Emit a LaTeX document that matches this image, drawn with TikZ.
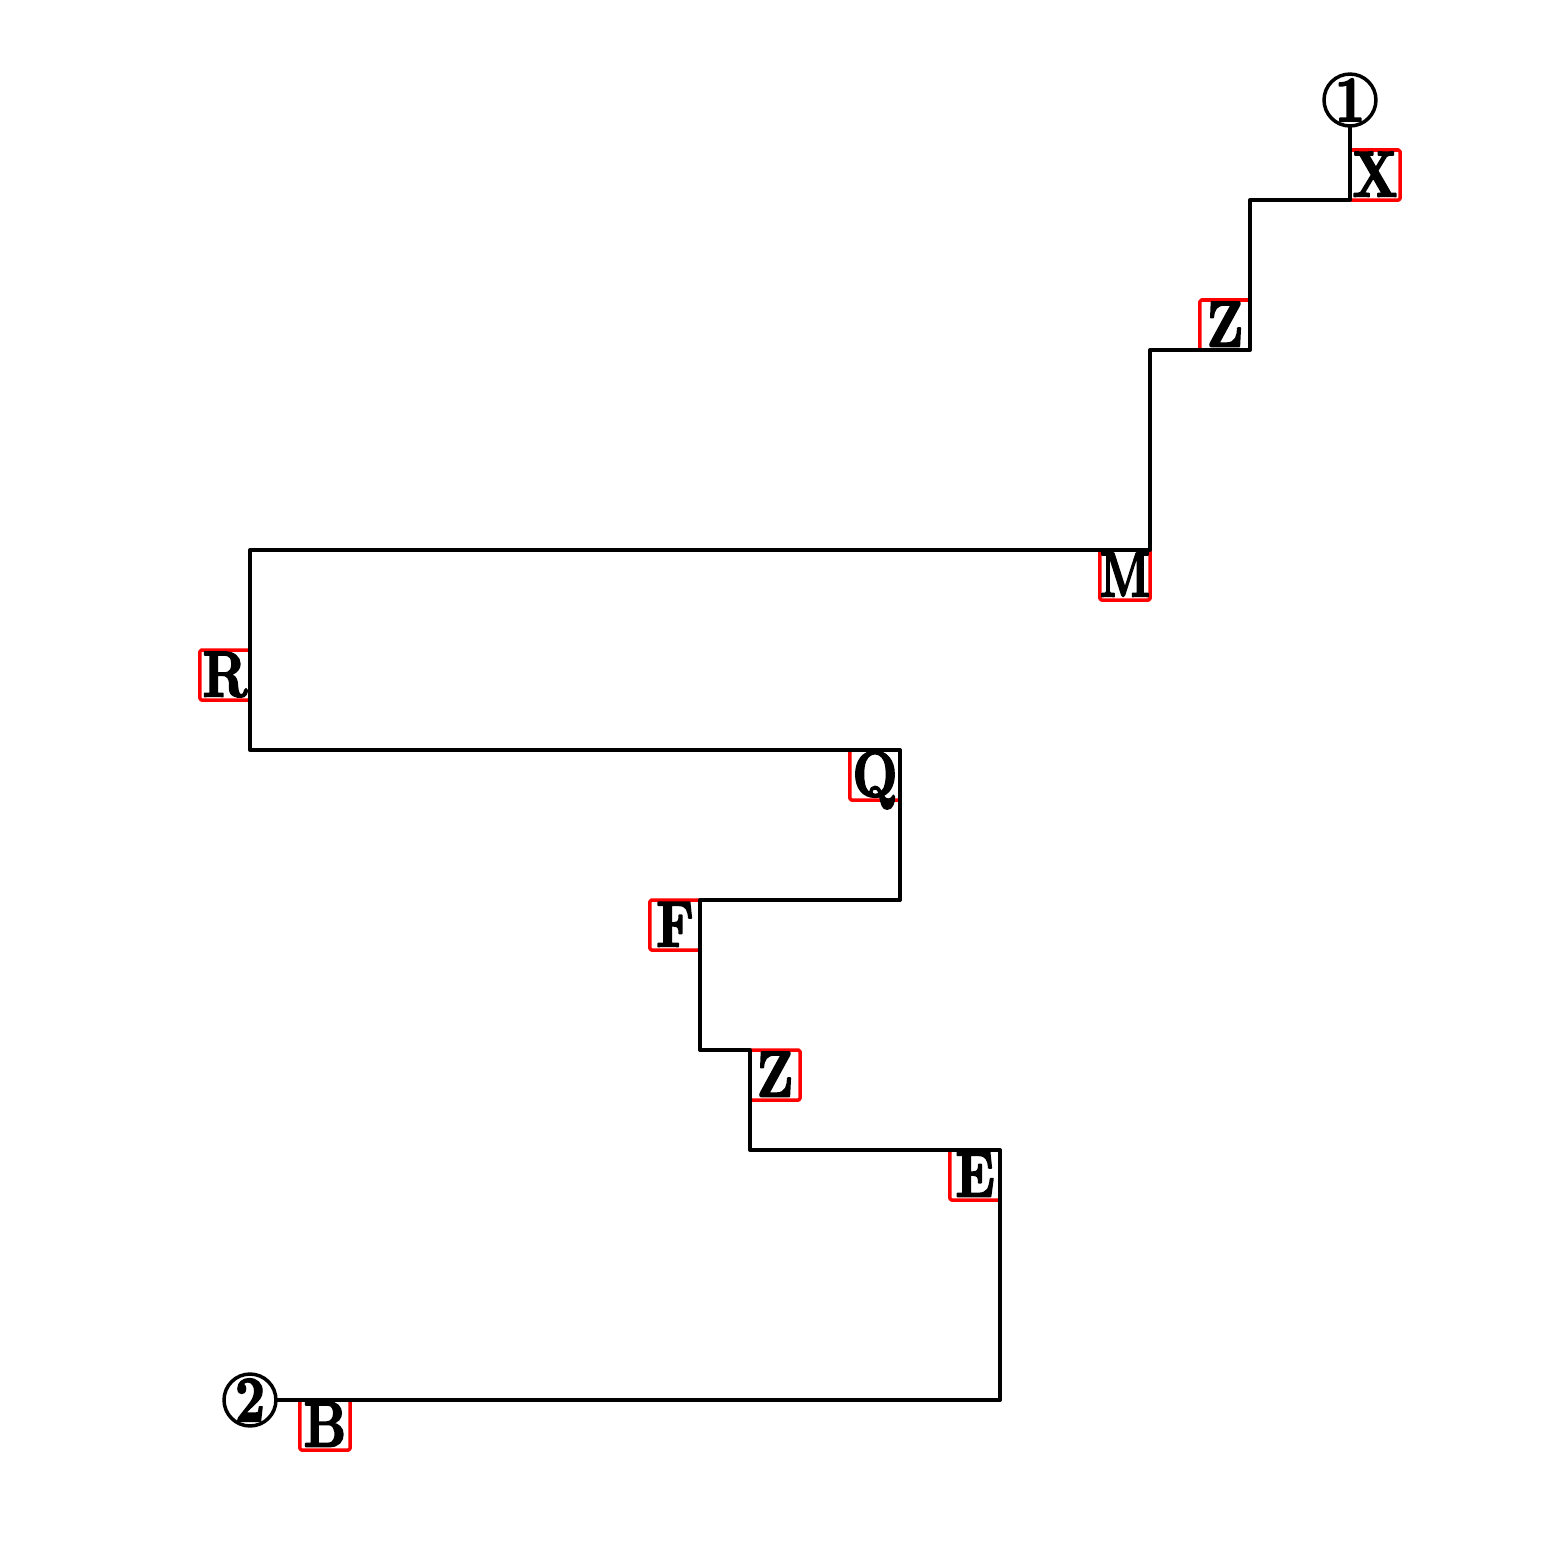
\documentclass[tikz,border=0pt]{standalone}
\usepackage{fontspec}
\newfontfamily\lblfont{lmroman10-bold}[Extension=.otf,FakeBold=2.5,FakeStretch=0.8]
\begin{document}
\begin{tikzpicture}[x=0.01cm,y=-0.01cm,line width=0.04cm,line cap=round,line join=round,
  lbl/.style={draw=red,line width=0.035cm,rounded corners=0.015cm,minimum width=0.5cm,minimum height=0.5cm,text width=0.5cm,align=center,inner sep=0pt,text height=0.43cm,text depth=0pt,font=\fontsize{18.5}{20}\selectfont\lblfont},
  endpt/.style={draw,circle,line width=0.035cm,minimum size=0.5cm,inner sep=0pt,font=\fontsize{18.5}{20}\selectfont\lblfont}]
\useasboundingbox (0,0) rectangle (1550,1550);
\node[endpt] (c1) at (1350,100) {1};
\node[endpt] (c2) at (250,1400) {2};
\node[lbl] (lx) at (1375,175) {X};
\node[lbl] (lz1) at (1225,325) {Z};
\node[lbl] (lm) at (1125,575) {\scalebox{0.88}[1]{M}};
\node[lbl] (lr) at (225,675) {R};
\node[lbl] (lq) at (875,775) {Q};
\node[lbl] (lf) at (675,925) {F};
\node[lbl] (lz2) at (775,1075) {Z};
\node[lbl] (le) at (975,1175) {E};
\node[lbl] (lb) at (325,1425) {B};
\coordinate (p1) at (1350,200);
\coordinate (p2) at (1250,200);
\coordinate (p3) at (1250,350);
\coordinate (p4) at (1150,350);
\coordinate (p5) at (1150,550);
\coordinate (p6) at (250,550);
\coordinate (p7) at (250,750);
\coordinate (p8) at (900,750);
\coordinate (p9) at (900,900);
\coordinate (p10) at (700,900);
\coordinate (p11) at (700,1050);
\coordinate (p12) at (750,1050);
\coordinate (p13) at (750,1150);
\coordinate (p14) at (1000,1150);
\coordinate (p15) at (1000,1400);
\draw (c1.south) -- (p1) -- (p2) -- (p3) -- (p4) -- (p5) -- (p6) -- (p7) -- (p8) -- (p9) -- (p10) -- (p11) -- (p12) -- (p13) -- (p14) -- (p15) -- (c2.east);
\end{tikzpicture}
\end{document}
